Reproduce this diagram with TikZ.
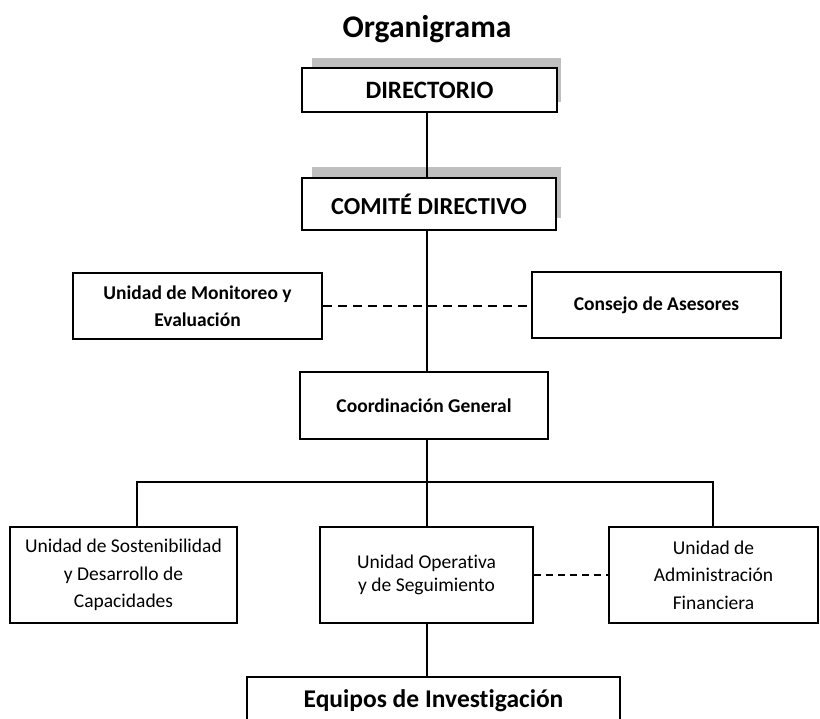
\documentclass[tikz,border=0pt]{standalone}
\usepackage{fontspec}
\setmainfont[Ligatures=NoCommon]{Carlito}
\begin{document}
\begin{tikzpicture}[x=1pt,y=-1pt,
  box/.style={draw=black,line width=1.6pt,fill=white,inner sep=0pt,align=center},
  shadowbox/.style={fill=black!25,draw=none},
  link/.style={line width=2.3pt},
  dlink/.style={line width=2.4pt,dash pattern=on 9pt off 6pt},
  tlink/.style={line width=1.3pt,dash pattern=on 7pt off 5pt},
  fbig/.style={font=\bfseries\fontsize{25}{28}\selectfont},
  fmid/.style={font=\bfseries\fontsize{19.5}{27}\selectfont},
  freg/.style={font=\fontsize{19.5}{27.5}\selectfont}]
\useasboundingbox (0,0) rectangle (820,719);
\clip (0,0) rectangle (820,719);
\fill[white] (0,0) rectangle (820,719);

\node[font=\bfseries\fontsize{31.5}{34}\selectfont] (title) at (427,29) {Organigrama};

% shadows
\fill[shadowbox] (312,58) rectangle (561,102);
\fill[shadowbox] (312,167) rectangle (561,218);

\node[box,fbig,minimum width=255pt,minimum height=44pt] (DIR) at (429.5,90) {DIRECTORIO};
\node[box,font=\bfseries\fontsize{24.4}{28}\selectfont,minimum width=254pt,minimum height=52pt] (COM) at (429,204) {COMITÉ DIRECTIVO};
\node[box,fmid,minimum width=249pt,minimum height=66pt] (MON) at (197.5,306) {Unidad de Monitoreo y\\Evaluación};
\node[box,fmid,minimum width=249pt,minimum height=66pt] (CON) at (656.5,305) {Consejo de Asesores};
\node[box,fmid,minimum width=248pt,minimum height=67pt] (COO) at (424,405.5) {Coordinación General};
\node[box,freg,minimum width=227pt,minimum height=96pt] (SOS) at (123.5,575) {Unidad de Sostenibilidad\\y Desarrollo de\\Capacidades};
\node[box,font=\fontsize{19.5}{23.5}\selectfont,minimum width=213pt,minimum height=96pt] (OPE) at (426.5,575) {Unidad Operativa\\y de Seguimiento};
\node[box,freg,minimum width=209pt,minimum height=96pt] (ADM) at (713.5,575) {Unidad de\\Administración\\Financiera};
\node[box,draw=none,fill=none,font=\bfseries\fontsize{25.5}{28}\selectfont,text height=18pt] (EQU) at (433.5,701) {Equipos de Investigación};
\draw[line width=1.6pt] (247,677) rectangle (620,760);
\coordinate (EQUtop) at (427,677);

\coordinate (spine) at (427,0);
\coordinate (barL) at (137,482);
\coordinate (barR) at (713,482);

\draw[link] (DIR.south -| spine) -- (COM.north -| spine);
\draw[link] (COM.south -| spine) -- (COO.north -| spine);
\draw[dlink] (MON.east) -- (MON.east -| CON.west);
\draw[link] (COO.south -| spine) -- (OPE.north -| spine);
\draw[link] (SOS.north -| barL) -- (barL) -- (barR) -- (ADM.north -| barR);
\draw[link] (OPE.south -| spine) -- (EQUtop);
\draw[tlink] (OPE.east) -- (ADM.west);
\end{tikzpicture}
\end{document}
